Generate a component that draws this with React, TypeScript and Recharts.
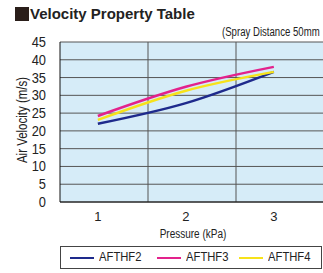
import React from "react";
import {
  LineChart,
  Line,
  XAxis,
  YAxis,
  CartesianGrid,
  ReferenceLine,
  Legend,
} from "recharts";

const pressures = [1, 2, 3];
const afthf2 = [22, 27.8, 36.6];
const afthf3 = [24.2, 32.4, 38.0];
const afthf4 = [23.1, 31.3, 36.6];
const yTicks = [0, 5, 10, 15, 20, 25, 30, 35, 40, 45];
const xGridLines = [1.57, 2.57];

const data = pressures.map((p, i) => ({
  p,
  AFTHF2: afthf2[i],
  AFTHF3: afthf3[i],
  AFTHF4: afthf4[i],
}));

const series = [
  { key: "AFTHF2", color: "#1e2a8c" },
  { key: "AFTHF3", color: "#e3228c" },
  { key: "AFTHF4", color: "#f7e21a" },
];

const font = '"Liberation Sans", Arial, sans-serif';
const legendLineX = [9, 96, 178];

function LegendBox() {
  return (
    <div
      style={{
        position: "absolute",
        left: 60,
        top: 246,
        width: 262,
        height: 23,
        border: "1px solid #444",
        boxSizing: "border-box",
        fontFamily: font,
        fontSize: 12.5,
        color: "#222",
      }}
    >
      {series.map((s, i) => (
        <React.Fragment key={s.key}>
          <div
            style={{
              position: "absolute",
              left: legendLineX[i],
              top: 10,
              width: 24,
              height: 2,
              background: s.color,
            }}
          />
          <span
            style={{
              position: "absolute",
              left: legendLineX[i] + 29,
              top: 3,
              transform: "scaleX(0.9)",
              transformOrigin: "left",
              whiteSpace: "nowrap",
            }}
          >
            {s.key}
          </span>
        </React.Fragment>
      ))}
    </div>
  );
}

function YTick(props: any) {
  const { x, y, payload } = props;
  return (
    <text
      x={x}
      y={y}
      dy={5}
      textAnchor="end"
      fill="#222"
      fontSize={14}
      fontFamily={font}
      transform={`translate(${x},0) scale(0.92,1) translate(${-x},0)`}
    >
      {payload.value}
    </text>
  );
}

export default function App() {
  return (
    <div style={{ position: "relative", width: 323, height: 273, overflow: "hidden", background: "#fff" }}>
      <style>{`body{margin:0}`}</style>
      <div
        style={{
          position: "absolute",
          left: 15,
          top: 5,
          fontFamily: font,
          fontWeight: "bold",
          fontSize: 15,
          color: "#222",
          display: "flex",
          alignItems: "center",
          whiteSpace: "nowrap",
        }}
      >
        <span style={{ display: "inline-block", width: 14, height: 14, background: "#2a1e1a", marginRight: 1 }} />
        Velocity Property Table
      </div>
      <div
        style={{
          position: "absolute",
          left: 222,
          top: 25,
          fontFamily: font,
          fontSize: 12,
          color: "#222",
          whiteSpace: "nowrap",
          transform: "scaleX(0.8)",
          transformOrigin: "left",
        }}
      >
        (Spray Distance 50mm
      </div>
      <div
        style={{
          position: "absolute",
          left: 22,
          top: 120,
          transform: "translate(-50%,-50%) rotate(-90deg) scaleX(0.82)",
          fontFamily: font,
          fontSize: 14,
          color: "#222",
          whiteSpace: "nowrap",
        }}
      >
        Air Velocity (m/s)
      </div>
      <div
        style={{
          position: "absolute",
          left: 193,
          top: 227,
          transform: "translateX(-50%) scaleX(0.8)",
          fontFamily: font,
          fontSize: 12.5,
          color: "#222",
          whiteSpace: "nowrap",
        }}
      >
        Pressure (kPa)
      </div>
      <div style={{ position: "absolute", left: 0, top: 0 }}>
        <LineChart
          width={324}
          height={273}
          data={data}
          margin={{ top: 42, right: 0, left: 0, bottom: 51 }}
        >
          <CartesianGrid vertical={false} fill="#d6ecf8" stroke="#555" strokeOpacity={1} />
          {xGridLines.map((x) => (
            <ReferenceLine key={x} x={x} stroke="#555" />
          ))}
          <XAxis
            dataKey="p"
            type="number"
            domain={[0.57, 3.57]}
            ticks={pressures}
            tickLine={false}
            axisLine={{ stroke: "#111" }}
            height={20}
            tick={{ fill: "#222", fontSize: 13, fontFamily: font }}
            tickMargin={4}
          />
          <YAxis
            type="number"
            domain={[0, 45]}
            ticks={yTicks}
            width={60}
            tickLine={false}
            axisLine={{ stroke: "#111" }}
            interval={0}
            tick={<YTick />}
            tickMargin={8}
          />
          {series.map((s) => (
            <Line
              key={s.key}
              type="monotone"
              dataKey={s.key}
              stroke={s.color}
              strokeWidth={2.5}
              dot={false}
              isAnimationActive={false}
            />
          ))}
          <Legend content={() => null} />
        </LineChart>
      </div>
      <LegendBox />
    </div>
  );
}
